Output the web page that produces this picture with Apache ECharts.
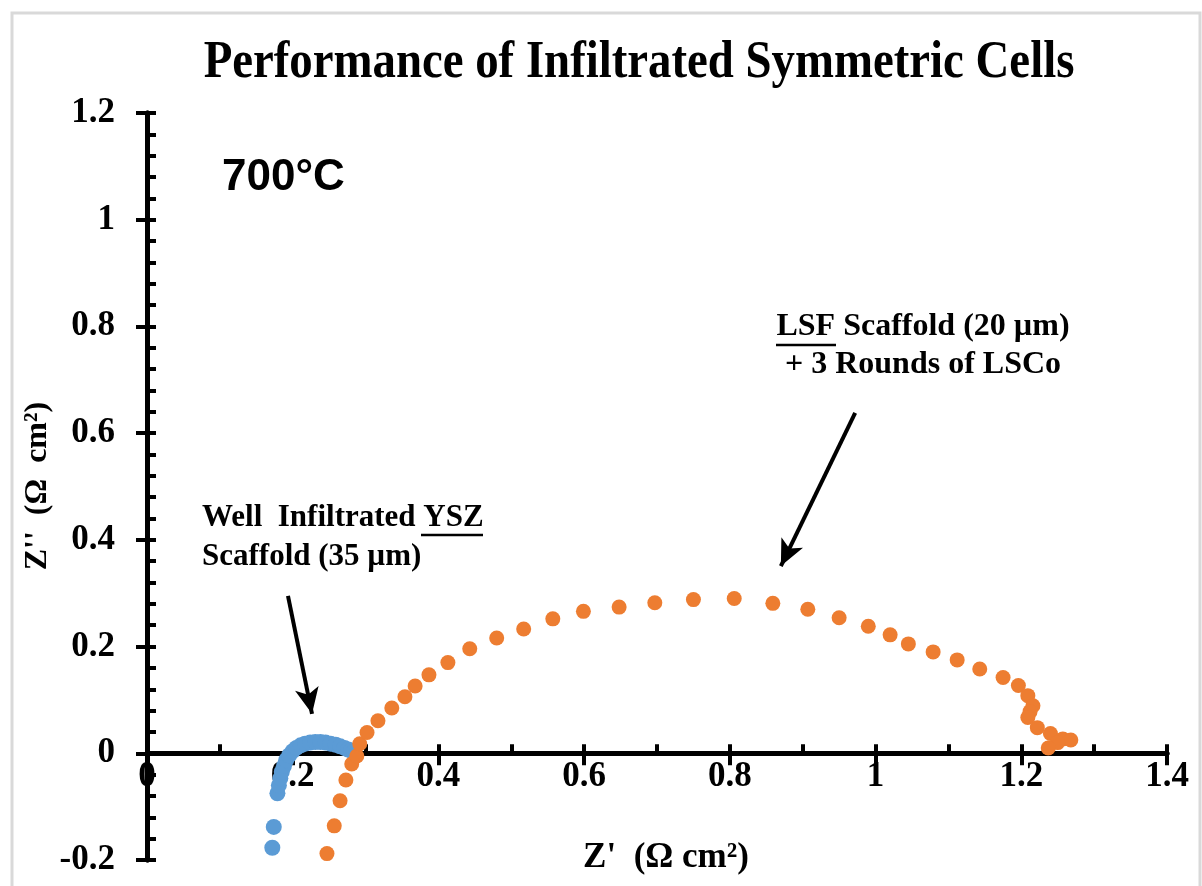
<!DOCTYPE html>
<html><head><meta charset="utf-8">
<script src="https://cdn.jsdelivr.net/npm/echarts@6/dist/echarts.min.js"></script>
<style>html,body{margin:0;padding:0;background:#fff}#c{width:1202px;height:886px}</style>
</head><body><div id="c"></div>
<script>
// YSZ scaffold (blue)
const yszX = [0.172,0.174,0.179,0.181,0.183,0.185,0.188,0.191,0.195,0.200,0.205,0.211,0.217,0.224,0.231,0.238,0.245,0.252,0.259,0.265,0.271,0.276,0.280,0.284];
const yszY = [-0.177,-0.138,-0.075,-0.060,-0.047,-0.035,-0.024,-0.013,-0.004,0.004,0.010,0.015,0.018,0.020,0.021,0.021,0.020,0.018,0.016,0.013,0.010,0.007,0.005,0.003];
// LSF scaffold (orange)
const lsfX = [0.247,0.257,0.265,0.273,0.281,0.288,0.292,0.302,0.317,0.336,0.354,0.368,0.387,0.413,0.443,0.480,0.517,0.557,0.599,0.648,0.697,0.750,0.806,0.859,0.907,0.950,0.990,1.020,1.045,1.079,1.112,1.143,1.175,1.196,1.209,1.216,1.212,1.209,1.222,1.240,1.257,1.268,1.250,1.237];
const lsfY = [-0.188,-0.136,-0.089,-0.050,-0.020,-0.005,0.018,0.039,0.061,0.085,0.106,0.126,0.147,0.170,0.196,0.216,0.233,0.252,0.266,0.274,0.282,0.288,0.290,0.281,0.270,0.254,0.238,0.222,0.205,0.190,0.175,0.158,0.142,0.127,0.108,0.089,0.078,0.067,0.048,0.037,0.027,0.025,0.020,0.010];
// arrows (data coords): [tailX, tailY, headX, headY]
const arrowYSZ = [0.1935, 0.295, 0.2265, 0.074];
const arrowLSF = [0.972, 0.638, 0.870, 0.351];

const xMin = 0, xMax = 1.4, xStep = 0.2;
const yMin = -0.2, yMax = 1.2, yStep = 0.2;

const serif = '"Liberation Serif","Times New Roman",serif';
const sans = '"Liberation Sans",Arial,sans-serif';
const black = '#000';

const gridLeft = 147, gridTop = 113, gridW = 1020, gridH = 747;
// x axes drawn at y = 0 (offset from the bottom edge of the grid)
const xOffset = -gridH * (0 - yMin) / (yMax - yMin);

const chart = echarts.init(document.getElementById('c'), null, {renderer: 'canvas'});
const tickLbl = {color: black, fontFamily: serif, fontWeight: 'bold', fontSize: 35};

const xOuter = {type:'value', min:xMin, max:xMax, interval:xStep, position:'bottom', offset:xOffset,
  axisLine:{show:true, onZero:false, lineStyle:{color:black, width:5}},
  axisTick:{show:true, inside:false, length:12, lineStyle:{color:black, width:4}},
  axisLabel:Object.assign({margin:6}, tickLbl),
  splitLine:{show:false}};
const xInner = {type:'value', min:xMin, max:xMax, interval:xStep, position:'bottom', offset:xOffset,
  axisLine:{show:true, onZero:false, lineStyle:{color:black, width:5}},
  axisTick:{show:true, inside:true, length:9, lineStyle:{color:black, width:4}},
  minorTick:{show:true, splitNumber:2, length:9, lineStyle:{color:black, width:4}},
  axisLabel:{show:false}, splitLine:{show:false}, minorSplitLine:{show:false}};
const yOuter = {type:'value', min:yMin, max:yMax, interval:yStep, position:'left',
  axisLine:{show:true, onZero:false, lineStyle:{color:black, width:5}},
  axisTick:{show:true, inside:false, length:11, lineStyle:{color:black, width:4}},
  axisLabel:Object.assign({margin:32}, tickLbl),
  splitLine:{show:false}};
const yInner = {type:'value', min:yMin, max:yMax, interval:yStep, position:'left',
  axisLine:{show:true, onZero:false, lineStyle:{color:black, width:5}},
  axisTick:{show:true, inside:true, length:9, lineStyle:{color:black, width:4}},
  minorTick:{show:true, splitNumber:5, length:9, lineStyle:{color:black, width:4}},
  axisLabel:{show:false}, splitLine:{show:false}, minorSplitLine:{show:false}};

const pairs = (xs, ys) => xs.map((x, i) => [x, ys[i]]);
const arrowLine = a => [{coord:[a[0], a[1]], symbol:'none'}, {coord:[a[2], a[3]], symbol:'arrow'}];

chart.setOption({
  animation:false,
  backgroundColor:'#fff',
  grid:{left:gridLeft, top:gridTop, width:gridW, height:gridH, containLabel:false, outerBoundsMode:'none'},
  xAxis:[xOuter, xInner],
  yAxis:[yOuter, yInner],
  series:[
    {name:'YSZ', type:'scatter', xAxisIndex:0, yAxisIndex:0, data:pairs(yszX, yszY),
     symbol:'circle', symbolSize:16, itemStyle:{color:'#5B9BD5', opacity:1}, z:3},
    {name:'LSF', type:'scatter', xAxisIndex:0, yAxisIndex:0, data:pairs(lsfX, lsfY),
     symbol:'circle', symbolSize:15, itemStyle:{color:'#ED7D31', opacity:1}, z:4,
     markLine:{silent:true, symbolSize:[18, 26], label:{show:false},
       lineStyle:{color:black, width:4, type:'solid'},
       emphasis:{disabled:true},
       data:[arrowLine(arrowYSZ), arrowLine(arrowLSF)]}}
  ],
  graphic:[
    {type:'rect', shape:{x:12, y:13, width:1188, height:880}, style:{fill:'none', stroke:'#d9d9d9', lineWidth:3}, silent:true, z:-1},
    {type:'text', x:639, y:64, scaleX:0.9, style:{text:'Performance of Infiltrated Symmetric Cells', font:'bold 52px '+serif, fill:black, textAlign:'center', textVerticalAlign:'middle'}},
    {type:'text', x:222, y:178, style:{text:'700°C', font:'bold 44px '+sans, fill:black, textAlign:'left', textVerticalAlign:'middle'}},
    {type:'text', x:202, y:518, style:{text:'Well  Infiltrated YSZ', font:'bold 31px '+serif, fill:black, textAlign:'left', textVerticalAlign:'middle'}},
    {type:'text', x:202, y:557, style:{text:'Scaffold (35 µm)', font:'bold 31px '+serif, fill:black, textAlign:'left', textVerticalAlign:'middle'}},
    {type:'line', shape:{x1:421, y1:535, x2:483, y2:535}, style:{stroke:black, lineWidth:2.5}},
    {type:'text', x:923, y:327, style:{text:'LSF Scaffold (20 µm)', font:'bold 32px '+serif, fill:black, textAlign:'center', textVerticalAlign:'middle'}},
    {type:'text', x:923, y:365, style:{text:'+ 3 Rounds of LSCo', font:'bold 32px '+serif, fill:black, textAlign:'center', textVerticalAlign:'middle'}},
    {type:'line', shape:{x1:776, y1:345, x2:836, y2:345}, style:{stroke:black, lineWidth:2.5}},
    {type:'text', x:666, y:858, style:{text:"Z'  (Ω cm²)", font:'bold 35px '+serif, fill:black, textAlign:'center', textVerticalAlign:'middle'}},
    {type:'text', x:38, y:486, rotation:Math.PI/2, style:{text:"Z''  (Ω  cm²)", font:'bold 32px '+serif, fill:black, textAlign:'center', textVerticalAlign:'middle'}}
  ]
});
</script>
</body></html>
